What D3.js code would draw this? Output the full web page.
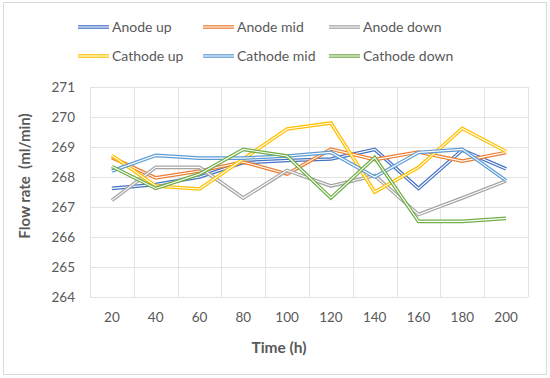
<!DOCTYPE html>
<html>
<head>
<meta charset="utf-8">
<script src="https://cdn.jsdelivr.net/npm/d3@7"></script>
<style>
  body { margin: 0; background: #fff; }
  text { font-family: Lato, "Open Sans", sans-serif; fill: #595959; }
</style>
</head>
<body>
<svg id="chart" width="550" height="378"></svg>
<script>
// time points (h)
var hours = [20, 40, 60, 80, 100, 120, 140, 160, 180, 200];
var yTicks = [264, 265, 266, 267, 268, 269, 270, 271];

var seriesNames = ["Anode up", "Anode mid", "Anode down", "Cathode up", "Cathode mid", "Cathode down"];
var seriesColors = ["#4472C4", "#ED7D31", "#A5A5A5", "#FFC000", "#5B9BD5", "#70AD47"];

var anodeUp     = [267.62, 267.75, 268.0, 268.48, 268.55, 268.6, 268.92, 267.62, 268.9, 268.27];
var anodeMid    = [268.65, 267.97, 268.2, 268.5, 268.1, 268.93, 268.58, 268.83, 268.53, 268.82];
var anodeDown   = [267.22, 268.32, 268.32, 267.3, 268.22, 267.7, 268.05, 266.75, 267.3, 267.87];
var cathodeUp   = [268.72, 267.7, 267.6, 268.6, 269.6, 269.8, 267.5, 268.32, 269.62, 268.85];
var cathodeMid  = [268.2, 268.72, 268.63, 268.63, 268.7, 268.82, 268.0, 268.82, 268.92, 267.88];
var cathodeDown = [268.35, 267.62, 268.1, 268.92, 268.7, 267.3, 268.65, 266.52, 266.52, 266.62];

var seriesValues = [anodeUp, anodeMid, anodeDown, cathodeUp, cathodeMid, cathodeDown];

function init() {
    var svg = d3.select("#chart");

    // outer frame
    svg.append("rect")
        .attr("x", 3.5).attr("y", 2.5)
        .attr("width", 543).attr("height", 372)
        .attr("fill", "#fff")
        .attr("stroke", "#D9D9D9");

    var left = 90, right = 528, top = 87, bottom = 297;

    var x = d3.scaleBand()
        .domain(hours)
        .range([left, right]);

    var y = d3.scaleLinear()
        .domain([264, 271])
        .range([bottom, top]);

    // gridlines
    var grid = svg.append("g");
    grid.selectAll("line.h")
        .data(yTicks)
        .enter()
        .append("line")
        .attr("x1", left).attr("x2", right)
        .attr("y1", function(d) { return Math.round(y(d)) + 0.5; })
        .attr("y2", function(d) { return Math.round(y(d)) + 0.5; })
        .attr("stroke", "#E3E3E3");

    var bounds = hours.map(function(d) { return x(d); }).concat([right]);
    grid.selectAll("line.v")
        .data(bounds)
        .enter()
        .append("line")
        .attr("x1", function(d) { return Math.round(d) + 0.5; })
        .attr("x2", function(d) { return Math.round(d) + 0.5; })
        .attr("y1", top).attr("y2", bottom)
        .attr("stroke", "#E3E3E3");

    // y axis labels
    svg.append("g")
        .selectAll("text")
        .data(yTicks)
        .enter()
        .append("text")
        .attr("x", 75)
        .attr("y", function(d) { return y(d); })
        .attr("dy", "0.35em")
        .attr("text-anchor", "end")
        .style("font-size", "13.5px")
        .text(function(d) { return d; });

    // x axis labels
    svg.append("g")
        .selectAll("text")
        .data(hours)
        .enter()
        .append("text")
        .attr("x", function(d) { return x(d) + x.bandwidth() / 2; })
        .attr("y", 317)
        .attr("dy", "0.35em")
        .attr("text-anchor", "middle")
        .style("font-size", "13.5px")
        .text(function(d) { return d; });

    // axis titles
    svg.append("text")
        .attr("x", 279).attr("y", 348)
        .attr("dy", "0.35em")
        .attr("text-anchor", "middle")
        .style("font-size", "15.5px")
        .style("font-weight", "bold")
        .text("Time (h)");

    svg.append("text")
        .attr("transform", "translate(25,176) rotate(-90)")
        .attr("dy", "0.35em")
        .attr("text-anchor", "middle")
        .style("font-size", "15px")
        .style("font-weight", "bold")
        .style("white-space", "pre")
        .text("Flow rate  (ml/min)");

    // lines, drawn as double lines
    var line = d3.line()
        .x(function(d, i) { return x(hours[i]) + x.bandwidth() / 2; })
        .y(function(d) { return y(d); });

    var lines = svg.append("g");
    seriesValues.forEach(function(vals, k) {
        lines.append("path")
            .attr("d", line(vals))
            .attr("fill", "none")
            .attr("stroke", seriesColors[k])
            .attr("stroke-width", 3.6);
        lines.append("path")
            .attr("d", line(vals))
            .attr("fill", "none")
            .attr("stroke", "#fff")
            .attr("stroke-width", 1.1);
    });

    // legend
    var legendX = [78, 203, 329];
    var legendY = [27, 56];
    var legend = svg.append("g");
    seriesNames.forEach(function(name, k) {
        var lx = legendX[k % 3], ly = legendY[Math.floor(k / 3)];
        legend.append("line")
            .attr("x1", lx).attr("x2", lx + 31)
            .attr("y1", ly).attr("y2", ly)
            .attr("stroke", seriesColors[k])
            .attr("stroke-width", 3.6);
        legend.append("line")
            .attr("x1", lx).attr("x2", lx + 31)
            .attr("y1", ly).attr("y2", ly)
            .attr("stroke", "#fff")
            .attr("stroke-width", 1.1);
        legend.append("text")
            .attr("x", lx + 34)
            .attr("y", ly)
            .attr("dy", "0.35em")
            .style("font-size", "14px")
            .text(name);
    });
}

init();
</script>
</body>
</html>
